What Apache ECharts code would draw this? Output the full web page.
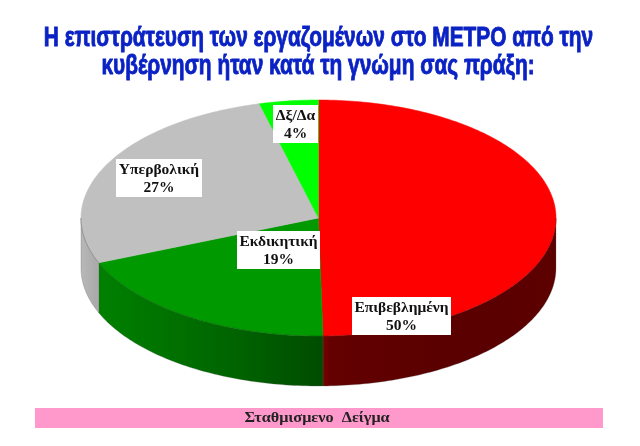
<!DOCTYPE html>
<html><head><meta charset="utf-8">
<style>html,body{margin:0;padding:0;background:#fff}#c{width:640px;height:446px}</style>
<script src="https://cdn.jsdelivr.net/npm/echarts@6/dist/echarts.min.js"></script>
</head><body><div id="c"></div>
<script>
const categories = ['Επιβεβλημένη','Εκδικητική','Υπερβολική','Δξ/Δα'];
const values = [49.7,19.1,27.2,4.0];
const titleLines = ['Η επιστράτευση των εργαζομένων στο ΜΕΤΡΟ από την','κυβέρνηση ήταν κατά τη γνώμη σας πράξη:'];
const footer = 'Σταθμισμενο  Δείγμα';

const geo = {cx:318.5, cy:218, rx:237.5, ry:118, depth:50};
const topColors = ['#ff0000','#009900','#c0c0c0','#00ff00'];
const wallStops = [
  [[0,'#7a0000'],[0.03,'#640000'],[0.5,'#5a0000'],[1,'#5c0000']],
  [[0,'#008000'],[0.6,'#006400'],[1,'#004c00']],
  [[0,'#b8b8b8'],[1,'#a8a8a8']],
  [[0,'#00aa00'],[1,'#00aa00']]
];
const labelBoxes = [[352,297,99,38],[237,231,83,38],[116,159,86,38],[273,105,45,38]];
const total = values.reduce((a,b)=>a+b,0);
const pt = (deg,dy)=>{const t=deg*Math.PI/180;return [geo.cx+geo.rx*Math.sin(t),geo.cy-geo.ry*Math.cos(t)+(dy||0)];};
const arc = (a,b,dy)=>{const n=Math.max(2,Math.ceil(Math.abs(b-a)));const p=[];for(let i=0;i<=n;i++)p.push(pt(a+(b-a)*i/n,dy));return p;};

function renderItem(params,api){
  const i=params.dataIndex, v=api.value(0);
  let before=0; for(let k=0;k<i;k++) before+=values[k];
  const a=before/total*360, b=(before+v)/total*360;
  const kids=[];
  const wa=Math.max(a,90), wb=Math.min(b,270);
  if(wb>wa){
    const top=arc(wa,wb,0), bot=arc(wb,wa,geo.depth);
    const x0=pt(wb)[0], x1=pt(wa)[0];
    const minx=Math.min(x0,x1),maxx=Math.max(x0,x1);
    kids.push({type:'polygon',shape:{points:top.concat(bot)},
      style:{fill:{type:'linear',x:minx,y:0,x2:maxx,y2:0,global:true,
        colorStops:wallStops[i].map(s=>({offset:s[0],color:s[1]}))},stroke:'rgba(90,90,90,0.45)',lineWidth:0.6}});
  }
  kids.push({type:'polygon',shape:{points:[[geo.cx,geo.cy]].concat(arc(a,b,0))},
    style:{fill:topColors[i],stroke:topColors[i],lineWidth:0.5}});
  if(a<270&&b>90) kids.push({type:'polyline',shape:{points:arc(wa,wb,0)},style:{fill:null,stroke:'rgba(0,0,0,0.3)',lineWidth:0.7}});
  return {type:'group',children:kids};
}
function renderLabel(params,api){
  const i=params.dataIndex, box=labelBoxes[i];
  return {type:'group',z2:100,children:[
    {type:'rect',shape:{x:box[0],y:box[1],width:box[2],height:box[3]},style:{fill:'#fff'},z2:100},
    {type:'text',z2:101,x:box[0]+box[2]/2,y:box[1]+box[3]/2+1,style:{
      text:categories[i]+'\n'+Math.round(api.value(0))+'%',
      align:'center',verticalAlign:'middle',lineHeight:18.5,
      font:'bold 15.5px "Liberation Serif"',fill:'#111'}}
  ]};
}
const titleStyle = {align:'center',verticalAlign:'middle',font:'bold 28px "Liberation Sans"',fill:'#0a22c4',
  stroke:'#0a22c4',lineWidth:0.9,shadowColor:'rgba(40,60,220,0.5)',shadowBlur:1.5};
const chart=echarts.init(document.getElementById('c'),null,{renderer:'canvas'});
chart.setOption({
  animation:false,backgroundColor:'#fff',
  series:[
    {type:'custom',coordinateSystem:'none',renderItem:renderItem,data:values.map((v,i)=>({name:categories[i],value:[v]})),silent:true,z:2},
    {type:'custom',coordinateSystem:'none',renderItem:renderLabel,data:values.map((v,i)=>({name:categories[i],value:[v]})),silent:true,z:3}
  ],
  graphic:[
    {type:'text',x:318.5,y:38,scaleX:0.745,z:5,style:Object.assign({text:titleLines[0]},titleStyle)},
    {type:'text',x:318,y:66,scaleX:0.745,z:5,style:Object.assign({text:titleLines[1]},titleStyle)},
    {type:'rect',shape:{x:35,y:408,width:568,height:20},style:{fill:'#ff99cc'},z:1},
    {type:'text',x:317,y:418,scaleX:1.08,z:2,style:{text:footer,align:'center',verticalAlign:'middle',font:'bold 15px "Liberation Serif"',fill:'#222'}}
  ]
});
</script></body></html>
